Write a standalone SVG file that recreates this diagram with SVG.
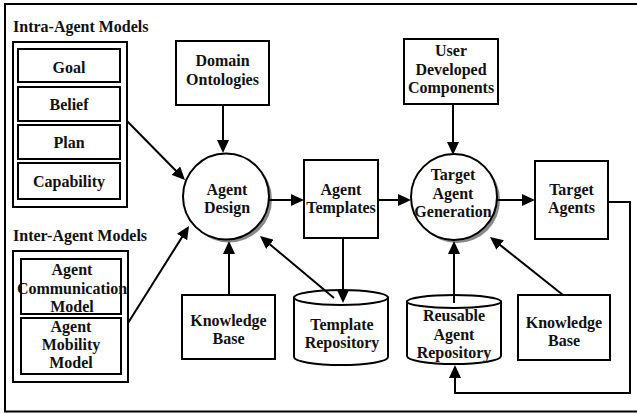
<svg xmlns="http://www.w3.org/2000/svg" width="637" height="414" viewBox="0 0 637 414">
<defs>
<marker id="ah" markerUnits="userSpaceOnUse" markerWidth="13" markerHeight="12" viewBox="0 0 13 12" refX="7" refY="6" orient="auto"><path d="M0,0 L13,6 L0,12 Z" fill="#000"/></marker>
<style>
.b{fill:#fff;stroke:#000;stroke-width:2}
.f{fill:none;stroke:#000;stroke-width:2}
.sh{fill:#888;stroke:none}
.t text{font-weight:bold;font-size:16px;fill:#111;text-anchor:middle}
.t text.l{text-anchor:start}
.c line,.c polyline{fill:none;stroke:#000;stroke-width:2;marker-end:url(#ah)}
</style>
</defs>
<rect width="637" height="414" fill="#fff"/>
<rect x="5" y="4" width="640" height="407.5" class="f"/>
<g class="t" font-family="'Liberation Serif', 'DejaVu Serif', 'Times New Roman', serif">

<g id="intra">
<text class="l" x="13" y="31.5">Intra-Agent Models</text>
<rect x="13" y="42" width="114" height="165" class="b"/>
</g>
<g id="goal"><rect x="18" y="49" width="102" height="33" class="b"/><text x="69" y="72.5">Goal</text></g>
<g id="belief"><rect x="18" y="87" width="102" height="34" class="b"/><text x="69" y="110">Belief</text></g>
<g id="plan"><rect x="18" y="125" width="102" height="34" class="b"/><text x="69" y="148">Plan</text></g>
<g id="capability"><rect x="18" y="163" width="102" height="36" class="b"/><text x="69" y="186.5">Capability</text></g>

<g id="inter">
<text class="l" x="13" y="240.5">Inter-Agent Models</text>
<rect x="13" y="251" width="115" height="131" class="b"/>
</g>
<g id="comm"><rect x="21" y="259" width="100" height="55" class="b"/><text x="72" y="275">Agent</text><text x="72" y="293.5">Communication</text><text x="72" y="311.5">Model</text></g>
<g id="mobility"><rect x="21" y="318" width="100" height="56" class="b"/><text x="71" y="332">Agent</text><text x="71" y="350">Mobility</text><text x="71" y="368">Model</text></g>

<g id="domain"><rect x="176" y="41" width="93" height="64" class="b"/><text x="222.5" y="66">Domain</text><text x="222.5" y="84.5">Ontologies</text></g>

<g id="agentdesign"><circle cx="229" cy="199.5" r="43" class="sh"/><circle cx="226" cy="196.5" r="43" class="b"/><text x="227" y="194.5">Agent</text><text x="227" y="212.5">Design</text></g>

<g id="templates"><rect x="304" y="160" width="74" height="78" class="b"/><text x="341" y="195">Agent</text><text x="341" y="213">Templates</text></g>

<g id="kb1"><rect x="182" y="295" width="93" height="64" class="b"/><text x="228.5" y="326">Knowledge</text><text x="228.5" y="344">Base</text></g>

<g id="templaterepo"><path d="M294,297.5 V357 A47,8 0 0 0 388,357 V297.5 Z" class="b"/><ellipse cx="341" cy="297.5" rx="47" ry="7.5" class="b"/><text x="342" y="330">Template</text><text x="342" y="348">Repository</text></g>

<g id="userdev"><rect x="404" y="39" width="94" height="65" class="b"/><text x="451" y="56">User</text><text x="451" y="74.5">Developed</text><text x="451" y="93">Components</text></g>

<g id="tag"><circle cx="457" cy="200" r="43" class="sh"/><circle cx="454" cy="197" r="43" class="b"/><text x="453" y="180">Target</text><text x="453" y="199">Agent</text><text x="453" y="217">Generation</text></g>

<g id="targetagents"><rect x="535" y="161" width="73" height="78" class="b"/><text x="571.5" y="195">Target</text><text x="571.5" y="212.5">Agents</text></g>

<g id="reusable"><path d="M407,301.5 V356 A47,8 0 0 0 501,356 V301.5 Z" class="b"/><ellipse cx="454" cy="301.5" rx="47" ry="6.5" class="b"/><text x="454" y="321">Reusable</text><text x="454" y="339.5">Agent</text><text x="454" y="358">Repository</text></g>

<g id="kb2"><rect x="518" y="295" width="92" height="65" class="b"/><text x="564" y="328">Knowledge</text><text x="564" y="346">Base</text></g>
</g>

<g class="c" id="connectors">
<line x1="127" y1="121" x2="180.8" y2="175.7"/>
<line x1="128" y1="323" x2="185.8" y2="231.1"/>
<line x1="223" y1="105" x2="223" y2="147"/>
<line x1="229" y1="295" x2="229" y2="247"/>
<line x1="334" y1="298" x2="264.6" y2="239.9"/>
<line x1="269" y1="200" x2="298" y2="200"/>
<line x1="343" y1="238" x2="343" y2="297"/>
<line x1="378" y1="200" x2="405" y2="200"/>
<line x1="453" y1="104" x2="453" y2="149"/>
<line x1="454" y1="303" x2="454" y2="247"/>
<line x1="563" y1="295" x2="494.7" y2="240.7"/>
<line x1="497" y1="200" x2="529" y2="200"/>
<polyline points="608,202 630,202 630,393 455,393 455,371"/>
</g>
</svg>
